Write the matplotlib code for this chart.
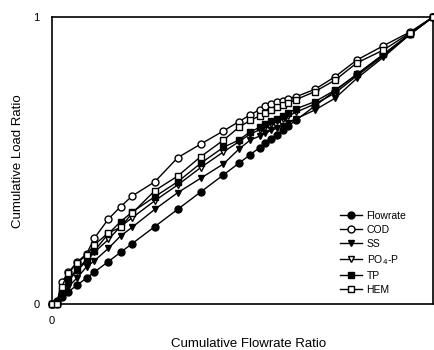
import matplotlib
matplotlib.use("Agg")
import matplotlib.pyplot as plt

plt.rcParams['font.family'] = ['Liberation Sans', 'DejaVu Sans']

# Cumulative flowrate ratio at each sampling step
flow_ratio = [0, 0.012, 0.025, 0.043, 0.065, 0.091, 0.111, 0.148, 0.18, 0.21,
              0.27, 0.33, 0.39, 0.45, 0.49, 0.52, 0.545, 0.56, 0.575, 0.59,
              0.605, 0.62, 0.64, 0.69, 0.743, 0.80, 0.87, 0.94, 1.0]

# Cumulative load ratios per constituent
flowrate = list(flow_ratio)
cod = [0, 0.0, 0.075, 0.11, 0.145, 0.175, 0.229, 0.296, 0.339, 0.376,
       0.426, 0.51, 0.557, 0.603, 0.635, 0.659, 0.677, 0.69, 0.697, 0.703,
       0.708, 0.714, 0.722, 0.748, 0.792, 0.85, 0.9, 0.948, 1.0]
ss = [0, 0.005, 0.03, 0.06, 0.09, 0.13, 0.15, 0.194, 0.237, 0.267,
      0.33, 0.388, 0.438, 0.488, 0.539, 0.571, 0.585, 0.595, 0.605, 0.612,
      0.62, 0.63, 0.645, 0.676, 0.717, 0.786, 0.86, 0.94, 1.0]
po4p = [0, 0.004, 0.045, 0.08, 0.115, 0.15, 0.18, 0.225, 0.27, 0.30,
        0.36, 0.415, 0.475, 0.53, 0.565, 0.592, 0.607, 0.618, 0.628, 0.636,
        0.645, 0.655, 0.668, 0.697, 0.735, 0.795, 0.865, 0.94, 1.0]
tp = [0, 0.005, 0.045, 0.085, 0.12, 0.155, 0.185, 0.245, 0.287, 0.32,
      0.374, 0.426, 0.49, 0.546, 0.571, 0.60, 0.615, 0.627, 0.637, 0.646,
      0.655, 0.665, 0.68, 0.705, 0.745, 0.80, 0.87, 0.942, 1.0]
hem = [0, 0.0, 0.06, 0.107, 0.142, 0.171, 0.206, 0.248, 0.267, 0.316,
       0.395, 0.446, 0.513, 0.571, 0.615, 0.64, 0.655, 0.667, 0.677, 0.685,
       0.692, 0.70, 0.712, 0.74, 0.78, 0.84, 0.885, 0.945, 1.0]

series = [
    ("Flowrate", flowrate, "o", "black"),
    ("COD", cod, "o", "white"),
    ("SS", ss, "v", "black"),
    ("PO$_4$-P", po4p, "v", "white"),
    ("TP", tp, "s", "black"),
    ("HEM", hem, "s", "white"),
]

fig = plt.figure(figsize=(4.34, 3.5), dpi=100)
ax = fig.add_axes([52 / 434, 46 / 350, 381 / 434, 287 / 350])

for label, vals, marker, face in series:
    ax.plot(flow_ratio, vals, color="black", lw=1.0, marker=marker,
            markersize=5, markerfacecolor=face, markeredgecolor="black",
            markeredgewidth=1.0, label=label, clip_on=False, zorder=3)

ax.set_xlim(0, 1)
ax.set_ylim(0, 1)
ax.set_xticks([0])
ax.set_xticklabels(["0"])
ax.set_yticks([0, 1])
ax.set_yticklabels(["0", "1"])
ax.tick_params(length=0, labelsize=8, pad=9)
for sp in ax.spines.values():
    sp.set_linewidth(1.2)

fig.text(249 / 434, 1 - 344 / 350, "Cumulative Flowrate Ratio",
         fontsize=9.5, ha="center", va="center")
fig.text(18 / 434, 1 - 161 / 350, "Cumulative Load Ratio",
         fontsize=9.5, ha="center", va="center", rotation=90)

ax.legend(loc="lower right", bbox_to_anchor=(0.955, 0.0), frameon=False,
          fontsize=7.5, handlelength=2.2, handletextpad=0.4,
          labelspacing=0.38, markerscale=1.0)

fig.savefig("out.png", dpi=100)
